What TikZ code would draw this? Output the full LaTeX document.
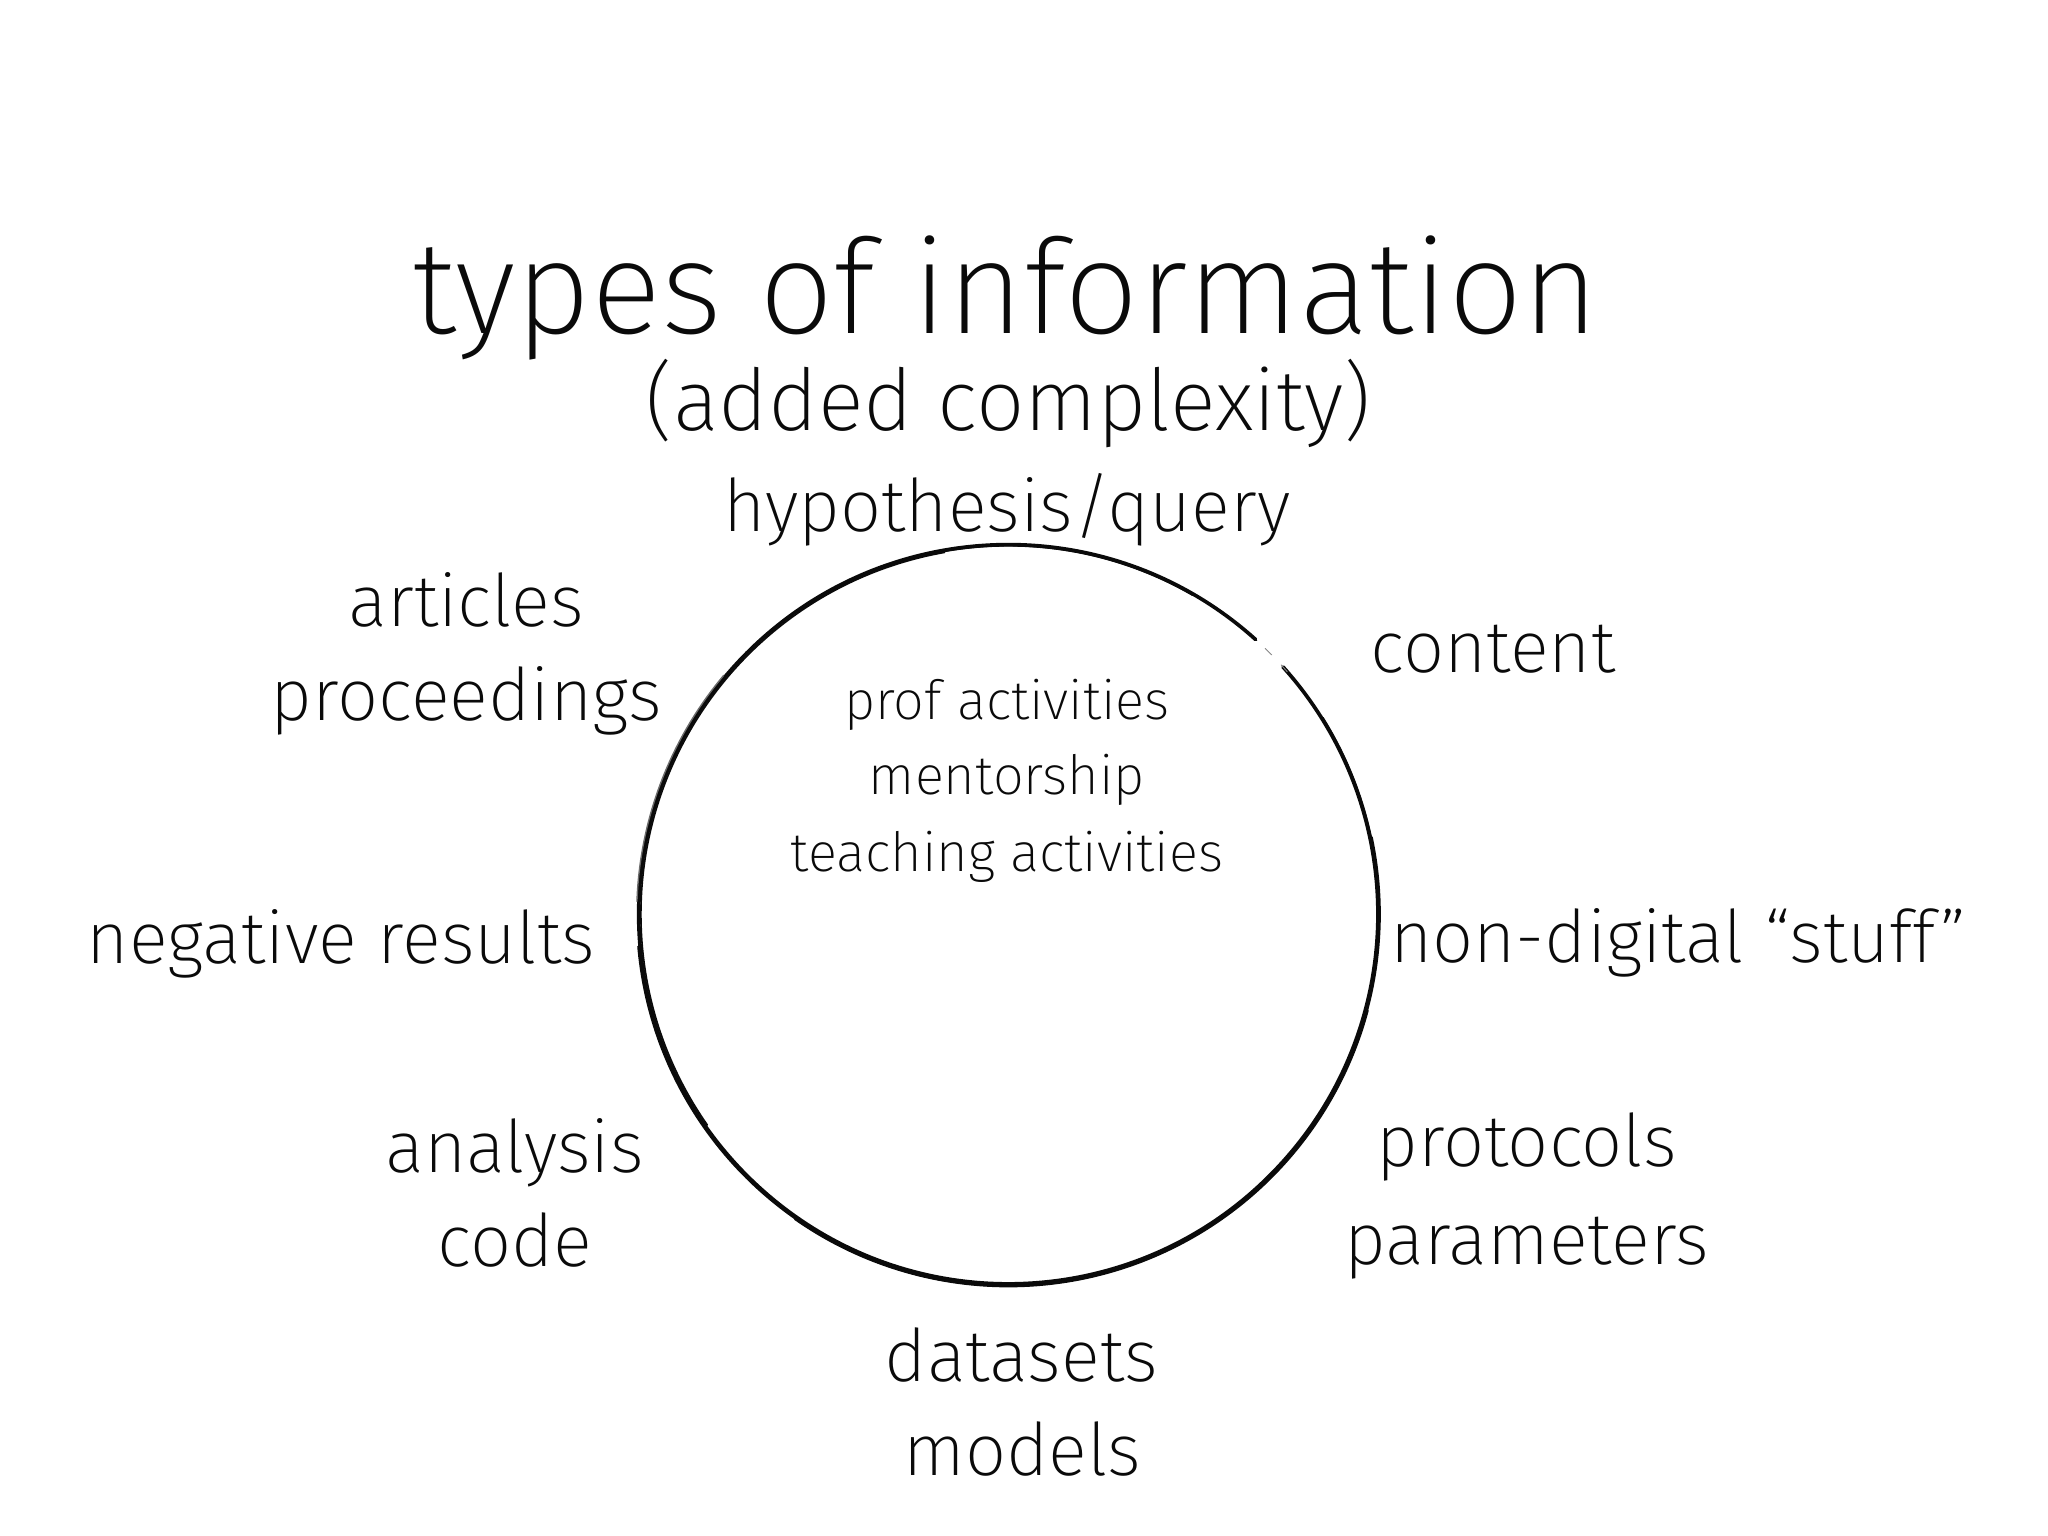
\documentclass[tikz,border=0pt]{standalone}
\usepackage{fontspec}
\setmainfont{Fira Sans ExtraLight}
\definecolor{ink}{RGB}{10, 10, 10}
\tikzset{
	title/.style={anchor=base, text=ink, font=\fontsize{28.6}{30}\selectfont},
	subtitle/.style={anchor=base, text=ink, font=\fontsize{18.6}{20}\selectfont},
	lbl/.style={anchor=base, text=ink, font=\fontsize{15.8}{18}\selectfont},
	inner/.style={anchor=base, text=ink, font=\fontsize{11.8}{14}\selectfont},
	brush/.style={draw=ink, line cap=round}
}
\begin{document}
\begin{tikzpicture}[x=0.01cm, y=0.01cm]
			\useasboundingbox (0, 0) rectangle (1568, 1176);
			\coordinate (c) at (772, 476);

			\draw [brush, line width=0.8pt] (c) ++(48:283) arc[start angle=48, end angle=402, radius=283];
			\draw [brush, line width=0.8pt] (c) ++(185:283.8) arc[start angle=185, end angle=372, radius=283.8];
			\draw [brush, line width=0.6pt] (c) ++(235:284.6) arc[start angle=235, end angle=345, radius=284.6];
			\draw [brush, line width=0.6pt] (c) ++(320:283.6) arc[start angle=320, end angle=392, radius=283.6];
			\draw [brush, line width=0.35pt] (c) ++(100:281.3) arc[start angle=100, end angle=215, radius=281.3];
			\draw [brush, line width=0.3pt] (c) ++(60:282) arc[start angle=60, end angle=125, radius=282];
			\draw [brush, line width=0.3pt, draw=ink!60] (c) ++(140:284.5) arc[start angle=140, end angle=178, radius=284.5];
			\draw [brush, line width=0.2pt, draw=ink!50, dash pattern=on 2pt off 3pt] (c) ++(41:283) arc[start angle=41, end angle=48, radius=283];

			\node [title] (types) at (770, 921) {types of information};
			\node [subtitle] (added) at (772, 846) {(added complexity)};
			\node [lbl] (hypo) at (771, 769) {hypothesis/query};

			\node [lbl] (articles) at (357, 696) {articles};
			\node [lbl] (proc) at (357, 624) {proceedings};
			\node [lbl] (content) at (1143, 661) {content};

			\node [inner] (prof) at (771, 625) {prof activities};
			\node [inner] (mentor) at (771, 568) {mentorship};
			\node [inner] (teach) at (771, 509) {teaching activities};

			\node [lbl] (negative) at (261, 438) {negative results};
			\node [lbl] (nondigital) at (1285, 439) {non-digital “stuff”};

			\node [lbl] (analysis) at (394, 278) {analysis};
			\node [lbl] (code) at (394, 206) {code};
			\node [lbl] (protocols) at (1169, 283) {protocols};
			\node [lbl] (params) at (1169, 208) {parameters};
			\node [lbl] (datasets) at (782, 118) {datasets};
			\node [lbl] (models) at (783, 46) {models};
		\end{tikzpicture}
\end{document}
